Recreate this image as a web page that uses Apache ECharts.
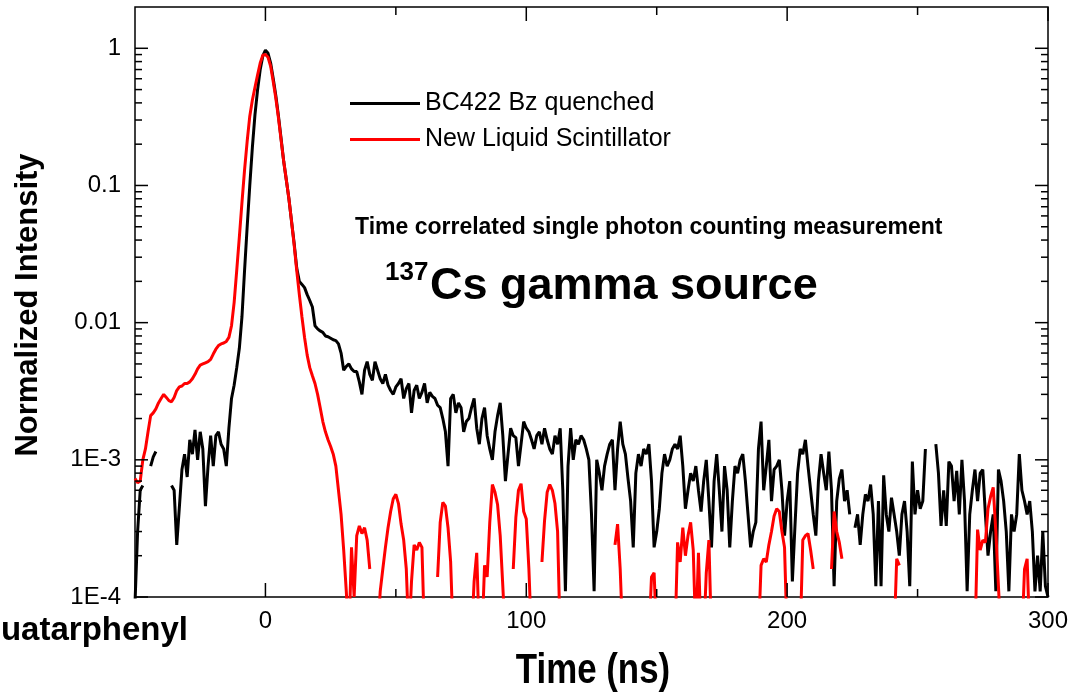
<!DOCTYPE html>
<html>
<head>
<meta charset="utf-8">
<script src="https://cdn.jsdelivr.net/npm/echarts@6/dist/echarts.min.js"></script>
<style>
html,body{margin:0;padding:0;background:#fff;}
#chart{width:1074px;height:694px;}
</style>
</head>
<body>
<div id="chart"></div>
<script>
// ---------- DATA ----------
const seriesNames = ['BC422 Bz quenched', 'New Liquid Scintillator'];
const timeStart = -50;   // ns, first sample
const timeStep = 1;      // ns between samples

// BC422 Bz quenched (black), one value per ns from -50 to 300
const bc422 = [
  0.00009, 0.0003, 0.0006, 0.00065, null, null, 0.0009, 0.00105, 0.00115, null,
  null, null, null, null, 0.00065, 0.0006, 0.00024, 0.00045, 0.00085, 0.0011,
  0.00075, 0.0014, 0.0011, 0.00165, 0.001, 0.0016, 0.0012, 0.00046, 0.0009, 0.0015,
  0.0009, 0.0015, 0.0016, 0.0013, 0.0012, 0.0009, 0.0017, 0.0028, 0.0035, 0.0047,
  0.0065, 0.011, 0.024, 0.05, 0.1, 0.19, 0.33, 0.5, 0.7, 0.88,
  0.97, 0.92, 0.78, 0.6, 0.45, 0.32, 0.22, 0.15, 0.11, 0.08,
  0.055, 0.038, 0.025, 0.02, 0.019, 0.018, 0.016, 0.0145, 0.013, 0.0095,
  0.009, 0.0087, 0.0085, 0.008, 0.0079, 0.0077, 0.0075, 0.0074, 0.007, 0.006,
  0.0045, 0.0048, 0.005, 0.0046, 0.0044, 0.0044, 0.0037, 0.003, 0.0045, 0.0052,
  0.0042, 0.0038, 0.0052, 0.0045, 0.0039, 0.0036, 0.0042, 0.0035, 0.0032, 0.003,
  0.0034, 0.0036, 0.0039, 0.0028, 0.0033, 0.0036, 0.0022, 0.0032, 0.0035, 0.0028,
  0.0031, 0.0036, 0.0026, 0.0031, 0.0029, 0.0028, 0.0025, 0.0024, 0.002, 0.0016,
  0.0009, 0.0028, 0.003, 0.0022, 0.0026, 0.0024, 0.0016, 0.0019, 0.002, 0.0024,
  0.0028, 0.0017, 0.0013, 0.002, 0.0024, 0.0015, 0.0012, 0.001, 0.0016, 0.0021,
  0.0026, 0.0015, 0.0007, 0.0011, 0.0017, 0.0015, 0.00145, 0.0009, 0.0013, 0.0019,
  0.0017, 0.0016, 0.0014, 0.0012, 0.0015, 0.0016, 0.0013, 0.0017, 0.0014, 0.0012,
  0.0011, 0.0015, 0.0013, 0.0017, 0.0006, 0.00011, 0.0009, 0.0017, 0.001, 0.0014,
  0.0013, 0.0015, 0.0014, 0.0012, 0.001, 0.0004, 0.00011, 0.001, 0.0008, 0.0006,
  0.0009, 0.0011, 0.0013, 0.0014, 0.0006, 0.0012, 0.0019, 0.0013, 0.0011, 0.00073,
  0.0005, 0.00023, 0.0008, 0.0011, 0.0009, 0.0012, 0.0011, 0.0013, 0.0007, 0.00023,
  0.0003, 0.00044, 0.0008, 0.0011, 0.0009, 0.001, 0.0012, 0.0013, 0.0012, 0.0015,
  0.0009, 0.00044, 0.0006, 0.0008, 0.0007, 0.0009, 0.0006, 0.00042, 0.0007, 0.001,
  0.0005, 0.00023, 0.0007, 0.0011, 0.0006, 0.0003, 0.0009, 0.0006, 0.00023, 0.0005,
  0.0009, 0.0008, 0.001, 0.0011, 0.0007, 0.0004, 0.00023, 0.0003, 0.00035, 0.0012,
  0.0019, 0.0006, 0.0009, 0.0014, 0.0005, 0.00085, 0.0009, 0.001, 0.0006, 0.00028,
  0.0005, 0.0007, 0.00013, 0.00033, 0.0008, 0.0012, 0.0011, 0.0014, 0.0009, 0.0006,
  0.0004, 0.00028, 0.0007, 0.0011, 0.0008, 0.0006, 0.00115, 0.0006, 0.00012, 0.0005,
  0.00073, 0.00085, 0.0005, 0.0006, 0.0004, null, 0.00032, 0.0004, 0.00024, 0.0004,
  0.00056, 0.0005, 0.00066, 0.0004, 0.00012, 0.0005, 0.00012, 0.00077, 0.0004, 0.0003,
  0.00053, 0.0004, 0.0003, 0.0002, 0.0004, 0.0005, 0.0003, 0.00012, 0.00097, 0.0004,
  0.0006, 0.00044, 0.0005, 0.0012, null, null, null, 0.0013, 0.0008, 0.00033,
  0.0006, 0.00033, 0.00097, 0.0009, 0.0005, 0.00083, 0.0004, 0.001, 0.0005, 0.00011,
  0.0004, 0.0006, 0.00085, 0.0005, 0.0008, 0.00085, 0.0004, 0.0002, 0.0003, 0.0004,
  0.00011, 0.00085, 0.0007, 0.0005, 0.0003, 0.00011, 0.0004, 0.0003, 0.0004, 0.0011,
  0.0006, 0.0005, 0.0004, 0.0005, 0.0003, 0.00011, 0.0002, 0.00011, 0.0003, 0.00012, 0.0001
];

// New Liquid Scintillator (red), one value per ns from -50 to 300 (values under 1E-4 fall off the plot)
const newScint = [
  0.00073, 0.00068, 0.0007, 0.001, 0.0012, 0.0016, 0.0021, 0.0022, 0.00235, 0.0026,
  0.0028, 0.003, 0.00285, 0.0027, 0.00265, 0.00285, 0.0032, 0.0034, 0.00345, 0.0036,
  0.0036, 0.0037, 0.0039, 0.0042, 0.0046, 0.0049, 0.005, 0.0051, 0.0052, 0.0054,
  0.0059, 0.0064, 0.0068, 0.007, 0.0071, 0.0073, 0.0078, 0.0095, 0.014, 0.024,
  0.042, 0.075, 0.13, 0.21, 0.32, 0.42, 0.52, 0.64, 0.78, 0.89,
  0.9, 0.86, 0.74, 0.57, 0.43, 0.31, 0.215, 0.15, 0.11, 0.08,
  0.055, 0.037, 0.024, 0.016, 0.011, 0.0078, 0.0058, 0.0047, 0.0041, 0.0036,
  0.003, 0.0024, 0.0019, 0.0016, 0.0014, 0.00125, 0.0011, 0.0009, 0.0006, 0.0004,
  0.00022, 0.00011, 0.00005, 0.00023, 0.0001, 0.00028, 0.00033, 0.00029, 0.00032, 0.00026,
  0.00016, null, null, 0.00005, 0.00011, 0.00016, 0.00023, 0.00032, 0.00042, 0.00052,
  0.00056, 0.00048, 0.00034, 0.00026, 0.00016, 0.00005, 0.00013, 0.00024, 0.00022, 0.00025,
  0.00023, 0.00005, null, null, null, null, 0.00014, 0.00035, 0.00049, 0.00046,
  0.00032, 0.00018, 0.00005, 0.00005, 0.00005, 0.00005, 0.00005, 0.00005, 0.00005, 0.00005,
  0.00013, 0.00021, 0.00005, 0.00005, 0.00017, 0.00014, 0.00035, 0.00066, 0.00058, 0.00047,
  0.00028, 0.00012, 0.00005, 0.00005, null, 0.00016, 0.00038, 0.0006, 0.00067, 0.00042,
  0.00037, 0.00016, 0.00005, 0.00005, 0.00005, null, 0.00018, 0.00036, 0.00058, 0.00066,
  0.0006, 0.00048, 0.0003, 0.00005, 0.00005, 0.00005, 0.00005, 0.00005, 0.00005, 0.00005,
  0.00005, 0.00005, 0.00005, 0.00005, 0.00005, 0.00005, 0.00005, 0.00005, 0.00005, 0.00005,
  0.00005, 0.00005, 0.00005, null, 0.00024, 0.00034, 0.00016, 0.00005, 0.00005, 0.00005,
  0.00005, 0.00005, 0.00005, 0.00005, 0.00005, 0.00005, 0.00005, 0.00005, 0.00014, 0.00015,
  0.00005, 0.00005, 0.00005, 0.00005, 0.00005, 0.00005, 0.00005, 0.00005, 0.00025, 0.00018,
  0.00032, 0.0002, 0.00028, 0.00035, 0.00022, 0.00005, 0.00021, 0.00005, 0.00005, 0.00015,
  0.00026, 0.00005, 0.00005, 0.00005, 0.00005, 0.00005, 0.00005, 0.00005, 0.00005, 0.00005,
  0.00005, 0.00005, 0.00005, 0.00005, 0.00005, 0.00005, 0.00005, 0.00005, 0.00005, 0.00005,
  0.00017, 0.00019, 0.00018, 0.00024, 0.0003, 0.00039, 0.00044, 0.00042, 0.0003, 0.00023,
  0.00005, 0.00005, 0.00005, 0.00005, 0.00005, 0.00005, 0.00026, 0.00028, 0.00029, 0.00022,
  0.00016, null, null, null, null, null, null, 0.00016, 0.00042, 0.0003,
  0.00025, 0.00019, null, null, null, null, null, null, null, null,
  null, null, null, null, null, null, null, null, null, null,
  null, 0.00005, 0.00019, 0.00017, null, 0.00005, 0.00005, 0.00005, 0.00005, 0.00005,
  0.00005, 0.00005, 0.00005, 0.00005, 0.00005, 0.00005, 0.00005, 0.00005, 0.00005, 0.00005,
  0.00005, 0.00005, 0.00005, 0.00005, 0.00005, 0.00005, 0.00005, 0.00005, 0.00005, 0.00005,
  0.00005, 0.00005, 0.00005, 0.00031, 0.00022, 0.00026, 0.00025, 0.00044, 0.00054, 0.00063,
  0.0003, 0.00012, 0.00005, 0.00005, 0.00005, 0.00005, 0.00005, 0.00005, 0.00005, 0.00005,
  0.00005, 0.00016, 0.00019, 0.00005, 0.00005, 0.00005, 0.00005, 0.00005, 0.00005, 0.00005, 0.00005
];

// axis ticks and labels
const xTickValues = [0, 100, 200, 300];
const xTickLabels = ['0', '100', '200', '300'];
const xMinorTickValues = [50, 150, 250];
const yTickValues = [1e-4, 1e-3, 1e-2, 1e-1, 1];
const yTickLabels = ['1E-4', '1E-3', '0.01', '0.1', '1'];
const yMinorMultipliers = [2, 3, 4, 5, 6, 7, 8, 9];

// ---------- CHART ----------
const FONT = '"Liberation Sans", Arial, Helvetica, sans-serif';
const times = bc422.map((_, i) => timeStart + i * timeStep);
const toPairs = arr => arr.map((v, i) => [times[i], v == null ? '-' : v]);

// tick marks drawn inside the frame on all four sides
const tickData = [];
xTickValues.forEach(v => tickData.push([v, 1, 0, 14]));
xMinorTickValues.forEach(v => tickData.push([v, 1, 0, 8]));
yTickValues.forEach(v => tickData.push([-50, v, 1, 13]));
yTickValues.slice(0, 4).forEach(d => yMinorMultipliers.forEach(m => tickData.push([-50, d * m, 1, 7])));

function renderTick(params, api) {
  const cs = params.coordSys;
  const kind = api.value(2), len = api.value(3);
  const p = api.coord([api.value(0), api.value(1)]);
  const st = { stroke: '#000', lineWidth: 1.5 };
  if (kind === 0) {
    const yb = cs.y + cs.height, yt = cs.y;
    return { type: 'group', children: [
      { type: 'line', shape: { x1: p[0], y1: yb, x2: p[0], y2: yb - len }, style: st },
      { type: 'line', shape: { x1: p[0], y1: yt, x2: p[0], y2: yt + len }, style: st }
    ]};
  }
  const xl = cs.x, xr = cs.x + cs.width;
  return { type: 'group', children: [
    { type: 'line', shape: { x1: xl, y1: p[1], x2: xl + len, y2: p[1] }, style: st },
    { type: 'line', shape: { x1: xr, y1: p[1], x2: xr - len, y2: p[1] }, style: st }
  ]};
}

function yLabel(v) {
  for (let i = 0; i < yTickValues.length; i++) {
    if (Math.abs(v - yTickValues[i]) / yTickValues[i] < 1e-6) return yTickLabels[i];
  }
  return '';
}
function xLabel(v) {
  const i = xTickValues.indexOf(v);
  return i >= 0 ? xTickLabels[i] : '';
}

const chart = echarts.init(document.getElementById('chart'), null, { renderer: 'canvas' });
chart.setOption({
  animation: false,
  backgroundColor: '#fff',
  grid: { left: 135, right: 26, top: 7, bottom: 97, show: true, borderColor: '#000', borderWidth: 1.5, backgroundColor: 'transparent' },
  xAxis: {
    type: 'value', min: -50, max: 300, interval: 50,
    axisLine: { show: false }, axisTick: { show: false }, splitLine: { show: false },
    axisLabel: { formatter: xLabel, fontSize: 24, color: '#000', fontFamily: FONT, margin: 12 }
  },
  yAxis: {
    type: 'log', logBase: 10, min: 1e-4, max: 2,
    axisLine: { show: false }, axisTick: { show: false }, splitLine: { show: false },
    axisLabel: { formatter: yLabel, fontSize: 24, color: '#000', fontFamily: FONT, margin: 14 }
  },
  legend: {
    data: seriesNames, orient: 'vertical', left: 345, top: 86,
    icon: 'rect', itemWidth: 70, itemHeight: 3, itemGap: 11, selectedMode: false,
    textStyle: { fontSize: 25, color: '#000', fontFamily: FONT, lineHeight: 25 }
  },
  series: [
    { name: seriesNames[0], type: 'line', data: toPairs(bc422), showSymbol: false, symbol: 'none',
      lineStyle: { color: '#000', width: 3 }, itemStyle: { color: '#000' }, clip: true, z: 2 },
    { name: seriesNames[1], type: 'line', data: toPairs(newScint), showSymbol: false, symbol: 'none',
      lineStyle: { color: '#ff0000', width: 3 }, itemStyle: { color: '#ff0000' }, clip: true, z: 3 },
    { name: 'ticks', type: 'custom', renderItem: renderTick, data: tickData, silent: true, z: 4 }
  ],
  graphic: [
    { type: 'text', x: 28, y: 305, rotation: Math.PI / 2,
      style: { text: 'Normalized Intensity', font: 'bold 31px ' + FONT, fill: '#000', align: 'center', verticalAlign: 'middle', textAlign: 'center', textVerticalAlign: 'middle' } },
    { type: 'text', x: 593, y: 671, scaleX: 0.83,
      style: { text: 'Time (ns)', font: 'bold 42px ' + FONT, fill: '#000', align: 'center', verticalAlign: 'middle', textAlign: 'center', textVerticalAlign: 'middle' } },
    { type: 'text', x: 188, y: 631,
      style: { text: 'Quatarphenyl', font: 'bold 33px ' + FONT, fill: '#000', align: 'right', verticalAlign: 'middle', textAlign: 'right', textVerticalAlign: 'middle' } },
    { type: 'text', x: 355, y: 228,
      style: { text: 'Time correlated single photon counting measurement', font: 'bold 23px ' + FONT, fill: '#000', align: 'left', verticalAlign: 'middle', textAlign: 'left', textVerticalAlign: 'middle' } },
    { type: 'text', x: 385, y: 273,
      style: { text: '137', font: 'bold 26px ' + FONT, fill: '#000', align: 'left', verticalAlign: 'middle', textAlign: 'left', textVerticalAlign: 'middle' } },
    { type: 'text', x: 430, y: 287,
      style: { text: 'Cs gamma source', font: 'bold 45px ' + FONT, fill: '#000', align: 'left', verticalAlign: 'middle', textAlign: 'left', textVerticalAlign: 'middle' } }
  ]
});
</script>
</body>
</html>
